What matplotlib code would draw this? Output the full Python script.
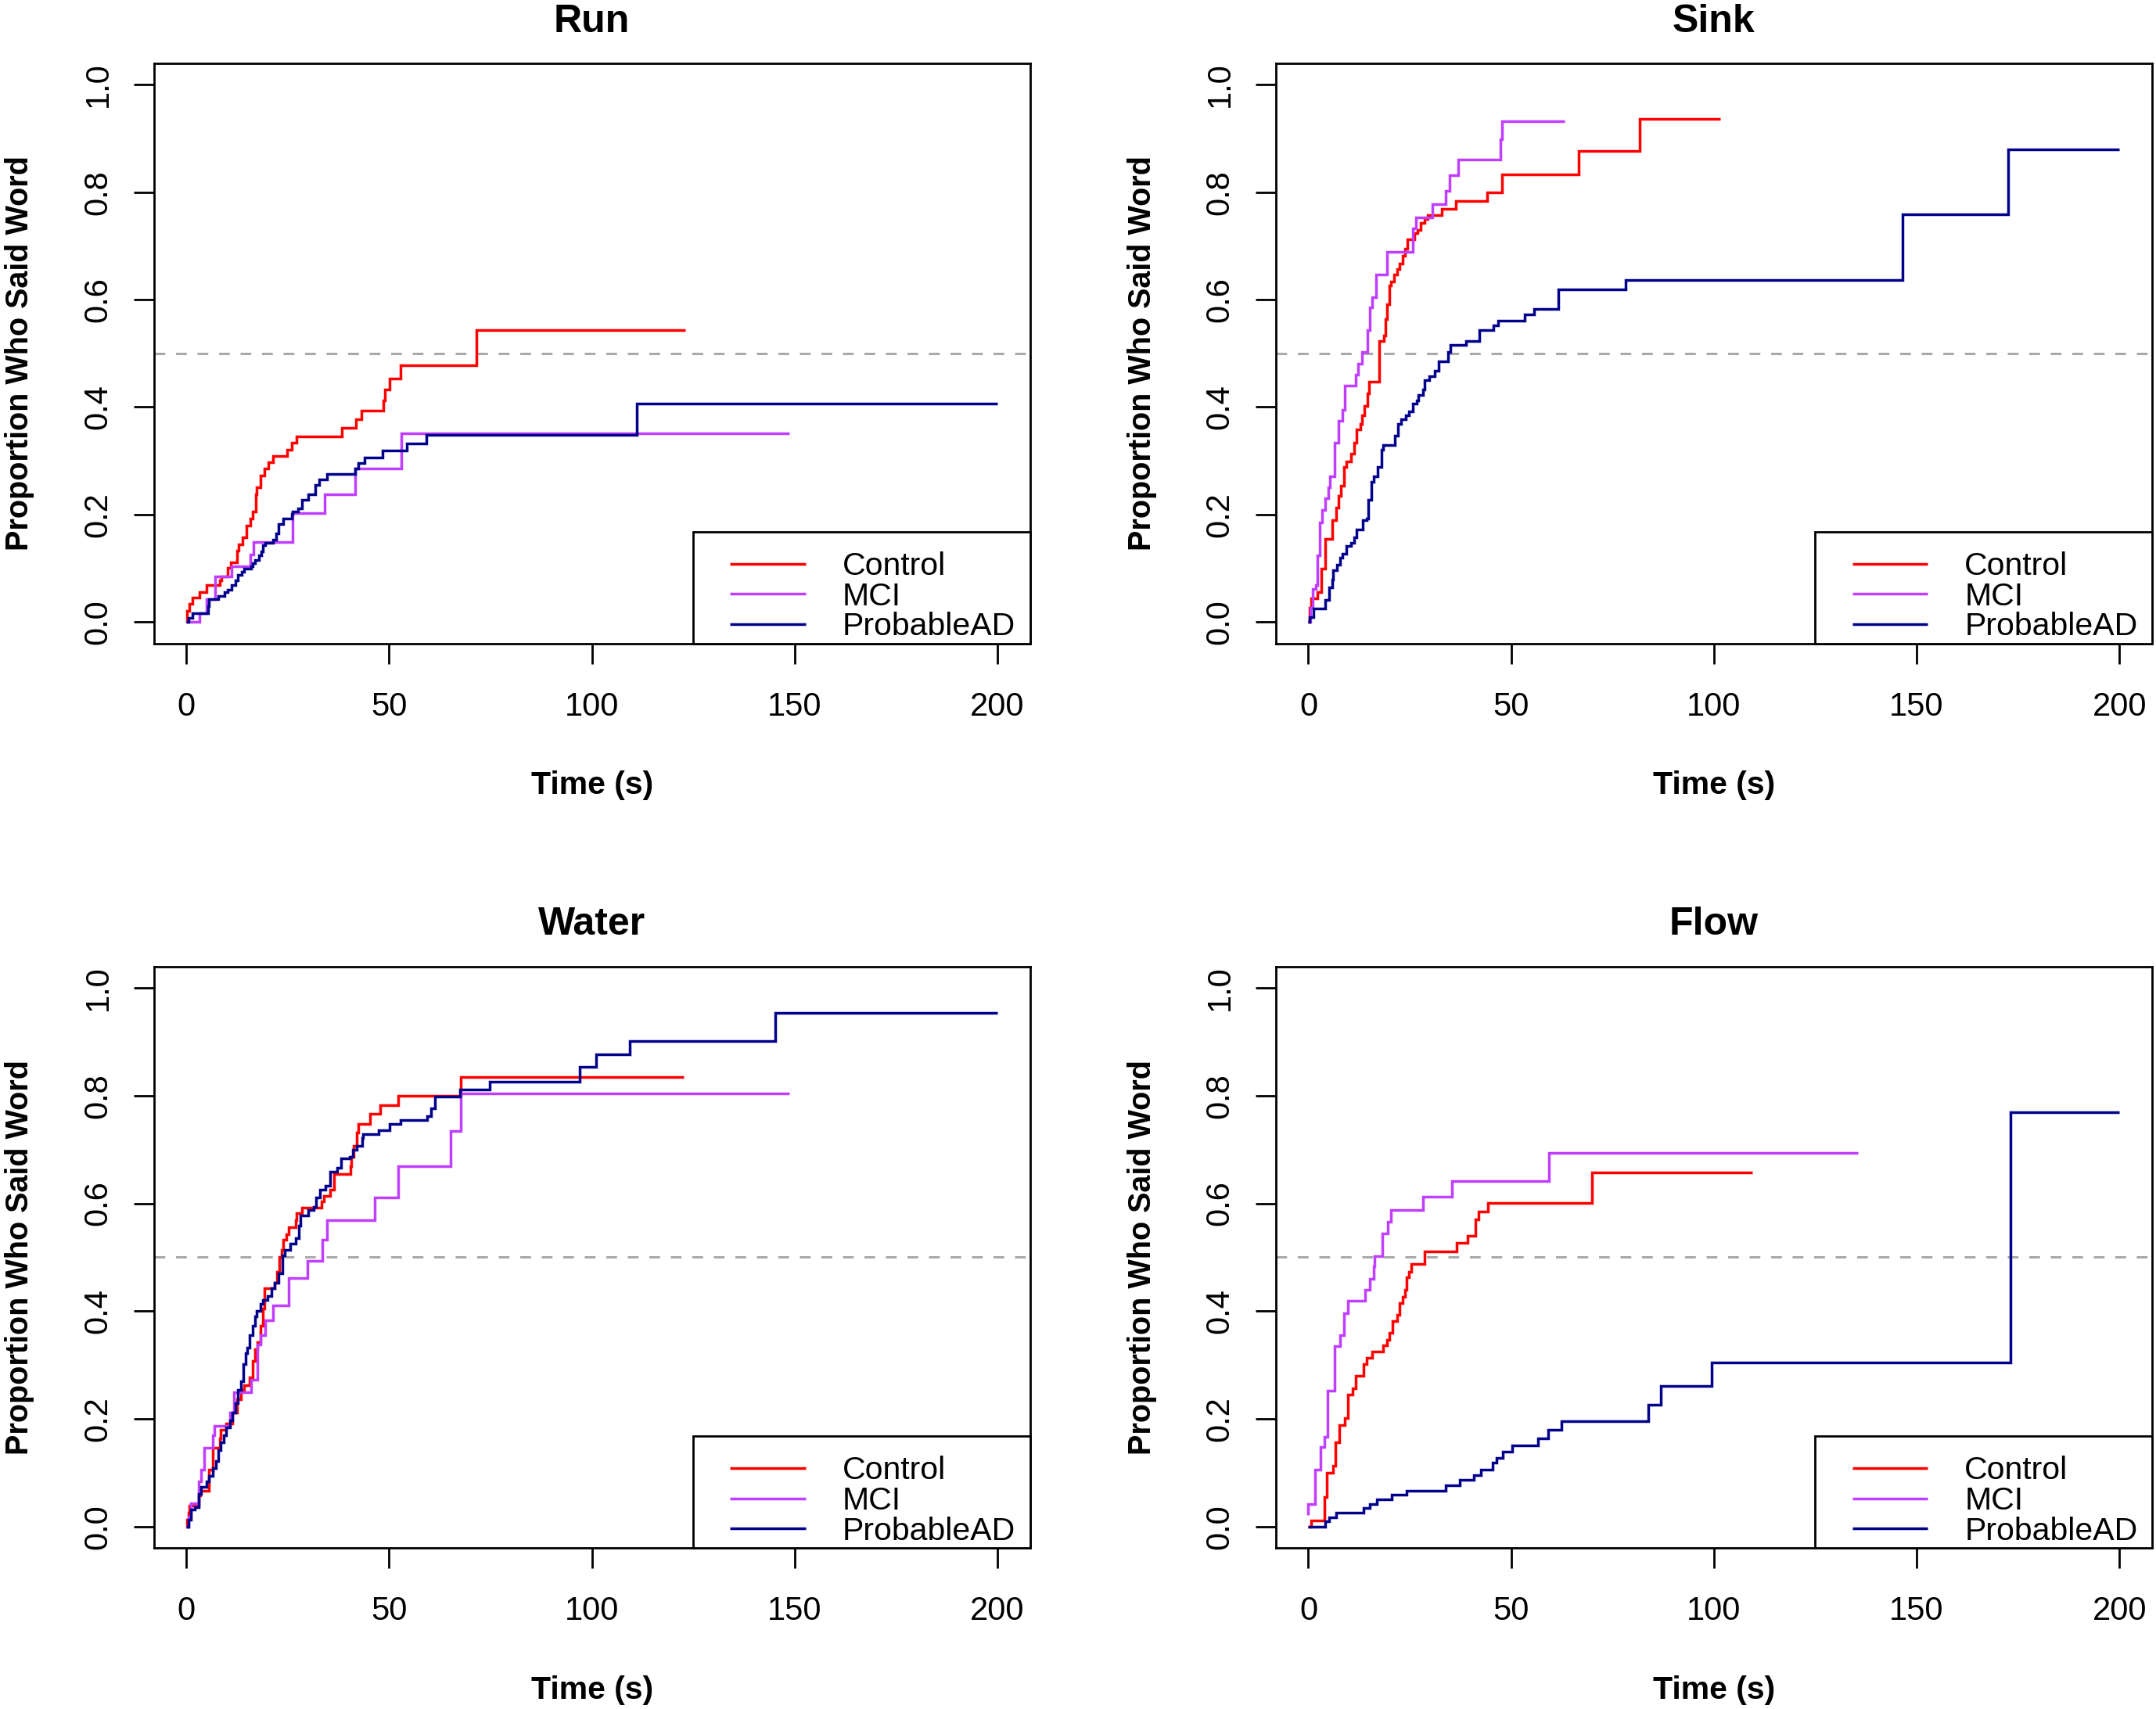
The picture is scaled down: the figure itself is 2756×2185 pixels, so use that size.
import matplotlib
matplotlib.use('Agg')
import matplotlib.pyplot as plt
from matplotlib.patches import Rectangle

plt.rcParams['font.family'] = ['Liberation Sans', 'DejaVu Sans']

groups = ['Control', 'MCI', 'ProbableAD']
colors = ['#FF0000', '#BF3EFF', '#00008B']
words = ['Run', 'Sink', 'Water', 'Flow']
x_ticks = [0, 50, 100, 150, 200]
y_ticks = [0.0, 0.2, 0.4, 0.6, 0.8, 1.0]

# step times (s) and proportion after each step, plus last follow-up time
run_control_t = [0, 0.2, 0.8, 1.5, 3.3, 4.9, 8.2, 8.7, 10.1, 11.0, 12.4, 12.9, 13.8, 14.8, 15.8, 16.4, 17.2,
                 17.4, 18.3, 19.2, 20.3, 21.3, 24.9, 25.9, 27.1, 38.3, 41.8, 43.2, 48.5, 49.0, 50.1, 52.8, 71.6]
run_control_p = [0, 0.021, 0.034, 0.045, 0.056, 0.068, 0.077, 0.085, 0.100, 0.111, 0.133, 0.145, 0.158, 0.179,
                 0.193, 0.206, 0.238, 0.250, 0.272, 0.285, 0.297, 0.309, 0.320, 0.333, 0.346, 0.361, 0.377,
                 0.393, 0.413, 0.432, 0.453, 0.478, 0.543]
run_control_end = 123

run_mci_t = [0, 3.2, 4.9, 7.1, 11.1, 15.8, 16.6, 26.1, 34.0, 41.7, 53.0]
run_mci_p = [0, 0.016, 0.043, 0.085, 0.104, 0.126, 0.149, 0.202, 0.238, 0.286, 0.351]
run_mci_end = 148.7

run_ad_t = [0, 0.5, 1.5, 5.3, 5.6, 7.9, 9.5, 10.1, 11.1, 12.1, 12.7, 13.6, 14.3, 15.9, 16.3, 16.9, 17.9, 18.5,
            18.8, 19.5, 21.4, 22.1, 22.7, 23.9, 25.9, 26.2, 27.5, 28.5, 30.1, 31.7, 32.7, 34.6, 41.7, 42.3,
            43.9, 48.3, 54.3, 59.2, 111.0]
run_ad_p = [0, 0.007, 0.016, 0.029, 0.042, 0.048, 0.055, 0.060, 0.068, 0.077, 0.087, 0.094, 0.099, 0.104,
            0.109, 0.116, 0.124, 0.131, 0.143, 0.148, 0.153, 0.165, 0.182, 0.192, 0.201, 0.206, 0.211, 0.228,
            0.238, 0.255, 0.265, 0.275, 0.286, 0.296, 0.306, 0.319, 0.332, 0.348, 0.406]
run_ad_end = 200

sink_control_t = [0, 0.2, 0.6, 2.3, 3.2, 4.2, 5.8, 6.8, 7.4, 8.0, 8.7, 9.3, 10.5, 11.3, 11.9, 12.9, 13.3, 13.8,
                  14.5, 15.0, 17.4, 18.7, 19.0, 19.3, 20.0, 20.4, 21.1, 21.9, 22.5, 23.2, 23.8, 24.5, 26.1,
                  27.0, 27.7, 28.7, 29.4, 32.8, 36.4, 44.0, 47.7, 66.7, 81.7]
sink_control_p = [0, 0.027, 0.044, 0.055, 0.099, 0.154, 0.189, 0.213, 0.234, 0.254, 0.289, 0.299, 0.313,
                  0.333, 0.358, 0.368, 0.385, 0.402, 0.426, 0.447, 0.523, 0.533, 0.564, 0.592, 0.626, 0.633,
                  0.647, 0.657, 0.667, 0.681, 0.695, 0.712, 0.724, 0.730, 0.743, 0.750, 0.758, 0.769, 0.784,
                  0.800, 0.833, 0.877, 0.937]
sink_control_end = 101.5

sink_mci_t = [0, 0.5, 1.1, 1.9, 2.3, 2.8, 3.4, 4.2, 5.0, 5.4, 6.4, 7.5, 8.4, 9.0, 11.6, 12.2, 13.3, 14.6, 15.1,
              15.8, 16.7, 19.3, 25.8, 26.6, 30.5, 33.8, 34.8, 37.0, 47.3, 47.8]
sink_mci_p = [0, 0.027, 0.062, 0.068, 0.124, 0.185, 0.209, 0.230, 0.251, 0.271, 0.333, 0.375, 0.395, 0.440,
              0.461, 0.481, 0.502, 0.543, 0.585, 0.605, 0.647, 0.689, 0.733, 0.753, 0.778, 0.802, 0.831,
              0.860, 0.898, 0.932]
sink_mci_end = 63.2

sink_ad_t = [0, 0.2, 1.3, 4.2, 5.2, 5.8, 6.1, 7.1, 7.9, 8.4, 9.3, 10.5, 11.3, 11.8, 13.5, 14.4, 14.8, 15.5,
             16.1, 17.1, 18.0, 18.4, 21.3, 22.1, 22.9, 24.0, 24.8, 25.8, 26.7, 27.2, 28.3, 28.7, 29.8, 31.2,
             32.2, 34.5, 35.1, 38.8, 42.2, 45.7, 46.7, 53.4, 55.7, 61.6, 78.2, 146.5, 172.5]
sink_ad_p = [0, 0.0095, 0.025, 0.041, 0.065, 0.079, 0.097, 0.106, 0.120, 0.127, 0.141, 0.147, 0.158, 0.172,
             0.189, 0.192, 0.227, 0.261, 0.271, 0.289, 0.320, 0.330, 0.347, 0.368, 0.378, 0.385, 0.392,
             0.406, 0.413, 0.423, 0.433, 0.450, 0.457, 0.468, 0.485, 0.502, 0.516, 0.523, 0.543, 0.552,
             0.561, 0.572, 0.583, 0.619, 0.636, 0.759, 0.879]
sink_ad_end = 200

water_control_t = [0, 0.2, 0.5, 0.8, 3.1, 3.4, 5.6, 6.6, 8.2, 8.5, 9.8, 11.4, 12.4, 13.4, 14.2, 15.6, 16.3,
                   16.9, 17.6, 18.2, 18.8, 19.2, 21.7, 22.4, 23.0, 23.5, 23.9, 24.6, 25.3, 26.9, 27.2, 28.5,
                   33.3, 33.9, 35.5, 36.5, 40.4, 40.7, 41.2, 42.0, 42.3, 45.2, 47.8, 52.2, 67.6]
water_control_p = [0, 0.012, 0.026, 0.039, 0.057, 0.067, 0.105, 0.146, 0.163, 0.180, 0.191, 0.211, 0.236,
                   0.253, 0.263, 0.277, 0.308, 0.329, 0.342, 0.373, 0.404, 0.442, 0.452, 0.473, 0.501, 0.514,
                   0.532, 0.542, 0.556, 0.569, 0.582, 0.592, 0.604, 0.614, 0.625, 0.655, 0.669, 0.686, 0.707,
                   0.731, 0.748, 0.766, 0.783, 0.800, 0.834]
water_control_end = 122.6

water_mci_t = [0, 0.5, 1.1, 3.1, 3.7, 4.4, 6.6, 6.9, 10.8, 11.8, 15.9, 17.6, 18.2, 19.5, 21.3, 25.3, 29.8,
               33.6, 34.6, 46.5, 52.2, 65.1, 67.6]
water_mci_p = [0, 0.019, 0.043, 0.084, 0.105, 0.146, 0.170, 0.187, 0.211, 0.249, 0.273, 0.338, 0.356, 0.383,
               0.411, 0.461, 0.494, 0.532, 0.569, 0.611, 0.669, 0.735, 0.804]
water_mci_end = 148.7

water_ad_t = [0, 0.5, 1.1, 2.1, 3.1, 3.7, 5.0, 5.6, 6.6, 7.3, 7.9, 8.5, 9.2, 9.8, 10.8, 11.4, 12.1, 12.7, 13.4,
              14.0, 14.7, 15.0, 15.6, 16.3, 16.9, 17.4, 18.2, 18.8, 20.1, 20.9, 21.7, 22.7, 23.7, 24.3, 25.6,
              26.9, 27.7, 28.2, 30.1, 31.4, 32.0, 33.0, 34.2, 35.5, 37.2, 38.2, 40.2, 41.1, 42.0, 43.3, 43.6,
              47.5, 50.1, 52.9, 59.4, 60.4, 61.3, 67.4, 74.8, 97.0, 101.0, 109.4, 145.2]
water_ad_p = [0, 0.012, 0.032, 0.036, 0.060, 0.074, 0.084, 0.094, 0.108, 0.122, 0.142, 0.156, 0.170, 0.184,
              0.197, 0.211, 0.229, 0.253, 0.270, 0.301, 0.322, 0.332, 0.356, 0.373, 0.390, 0.401, 0.414,
              0.421, 0.428, 0.442, 0.452, 0.470, 0.504, 0.514, 0.525, 0.535, 0.559, 0.577, 0.587, 0.594,
              0.611, 0.625, 0.633, 0.659, 0.666, 0.683, 0.687, 0.700, 0.707, 0.721, 0.728, 0.736, 0.747,
              0.755, 0.762, 0.776, 0.798, 0.811, 0.826, 0.853, 0.877, 0.902, 0.954]
water_ad_end = 200

flow_control_t = [0, 0.6, 3.9, 4.5, 6.1, 6.6, 7.7, 9.0, 9.7, 10.9, 11.6, 13.7, 14.4, 15.7, 18.5, 19.3, 20.0,
                  20.8, 21.9, 22.5, 23.2, 23.8, 24.3, 24.8, 25.4, 28.7, 36.6, 39.3, 41.2, 41.9, 44.2, 69.9]
flow_control_p = [0, 0.011, 0.055, 0.100, 0.113, 0.157, 0.189, 0.201, 0.245, 0.257, 0.280, 0.301, 0.313,
                  0.325, 0.336, 0.347, 0.360, 0.381, 0.393, 0.415, 0.427, 0.439, 0.463, 0.473, 0.487, 0.511,
                  0.526, 0.540, 0.570, 0.585, 0.601, 0.658]
flow_control_end = 109.5

flow_mci_t = [0, 0, 1.6, 3.0, 3.9, 4.8, 6.4, 7.9, 8.8, 9.7, 13.9, 15.1, 16.1, 16.4, 18.2, 19.6, 20.3, 28.3,
              35.4, 59.4]
flow_mci_p = [0.021, 0.041, 0.105, 0.147, 0.167, 0.252, 0.335, 0.355, 0.396, 0.419, 0.439, 0.460, 0.483,
              0.502, 0.544, 0.566, 0.587, 0.612, 0.642, 0.694]
flow_mci_end = 135.5

flow_ad_t = [0, 4.2, 5.2, 6.8, 13.7, 15.1, 16.9, 20.6, 24.2, 33.8, 37.4, 40.8, 42.5, 45.5, 46.4, 48.0, 50.2,
             56.7, 59.1, 62.5, 83.8, 86.9, 99.4, 173.2]
flow_ad_p = [0, 0.009, 0.017, 0.026, 0.035, 0.041, 0.050, 0.059, 0.067, 0.077, 0.087, 0.095, 0.106, 0.118,
             0.128, 0.139, 0.151, 0.164, 0.179, 0.196, 0.226, 0.261, 0.304, 0.770]
flow_ad_end = 200

curves = {
    'Run': [(run_control_t, run_control_p, run_control_end),
            (run_mci_t, run_mci_p, run_mci_end),
            (run_ad_t, run_ad_p, run_ad_end)],
    'Sink': [(sink_control_t, sink_control_p, sink_control_end),
             (sink_mci_t, sink_mci_p, sink_mci_end),
             (sink_ad_t, sink_ad_p, sink_ad_end)],
    'Water': [(water_control_t, water_control_p, water_control_end),
              (water_mci_t, water_mci_p, water_mci_end),
              (water_ad_t, water_ad_p, water_ad_end)],
    'Flow': [(flow_control_t, flow_control_p, flow_control_end),
             (flow_mci_t, flow_mci_p, flow_mci_end),
             (flow_ad_t, flow_ad_p, flow_ad_end)],
}

fig = plt.figure(figsize=(27.56, 21.85), dpi=100)
positions = [[0.0714, 0.6235, 0.4063, 0.3395], [0.5918, 0.6235, 0.4063, 0.3395],
             [0.0714, 0.0942, 0.4063, 0.3403], [0.5918, 0.0942, 0.4063, 0.3403]]

for word, pos in zip(words, positions):
    ax = fig.add_axes(pos)
    for (t, p, end), g, c in zip(curves[word], groups, colors):
        ax.step(t + [end], p + [p[-1]], where='post', color=c, lw=2.5, label=g,
                solid_capstyle='butt', solid_joinstyle='miter')
    ax.axhline(0.5, color='#A9A9A9', lw=2.2, ls=(0, (4.5, 4.5)), zorder=1)
    ax.set_xlim(-8, 208)
    ax.set_ylim(-0.04, 1.04)
    ax.set_xticks(x_ticks)
    ax.set_yticks(y_ticks)
    ax.set_yticklabels(['%.1f' % v for v in y_ticks])
    for s in ax.spines.values():
        s.set_linewidth(2.0)
    ax.tick_params(direction='out', length=19, width=2.0, labelsize=30)
    ax.tick_params(axis='x', pad=25)
    ax.tick_params(axis='y', pad=18, labelrotation=90)
    for lab in ax.get_yticklabels():
        lab.set_va('center')
    ax.set_title(word, fontsize=36, fontweight='bold', pad=29)
    ax.set_xlabel('Time (s)', fontsize=29.5, fontweight='bold')
    ax.set_ylabel('Proportion Who Said Word', fontsize=28.5, fontweight='bold')
    ax.xaxis.set_label_coords(0.5, -0.219)
    ax.yaxis.set_label_coords(-0.136, 0.5)

    # legend box in the lower right corner, R style
    ax.add_patch(Rectangle((0.6155, 0), 0.3845, 0.192, transform=ax.transAxes, facecolor='white',
                           edgecolor='black', lw=2.0, zorder=5, clip_on=False))
    for i, (g, c) in enumerate(zip(groups, colors)):
        yb = 0.118 - 0.052 * i
        ax.plot([0.6578, 0.7442], [yb + 0.0195, yb + 0.0195], transform=ax.transAxes, color=c, lw=2.5,
                solid_capstyle='butt', zorder=6)
        ax.text(0.786, yb, g, transform=ax.transAxes, fontsize=29.5, va='baseline', ha='left', zorder=6)

fig.savefig('out.png', dpi=100, facecolor='white')
